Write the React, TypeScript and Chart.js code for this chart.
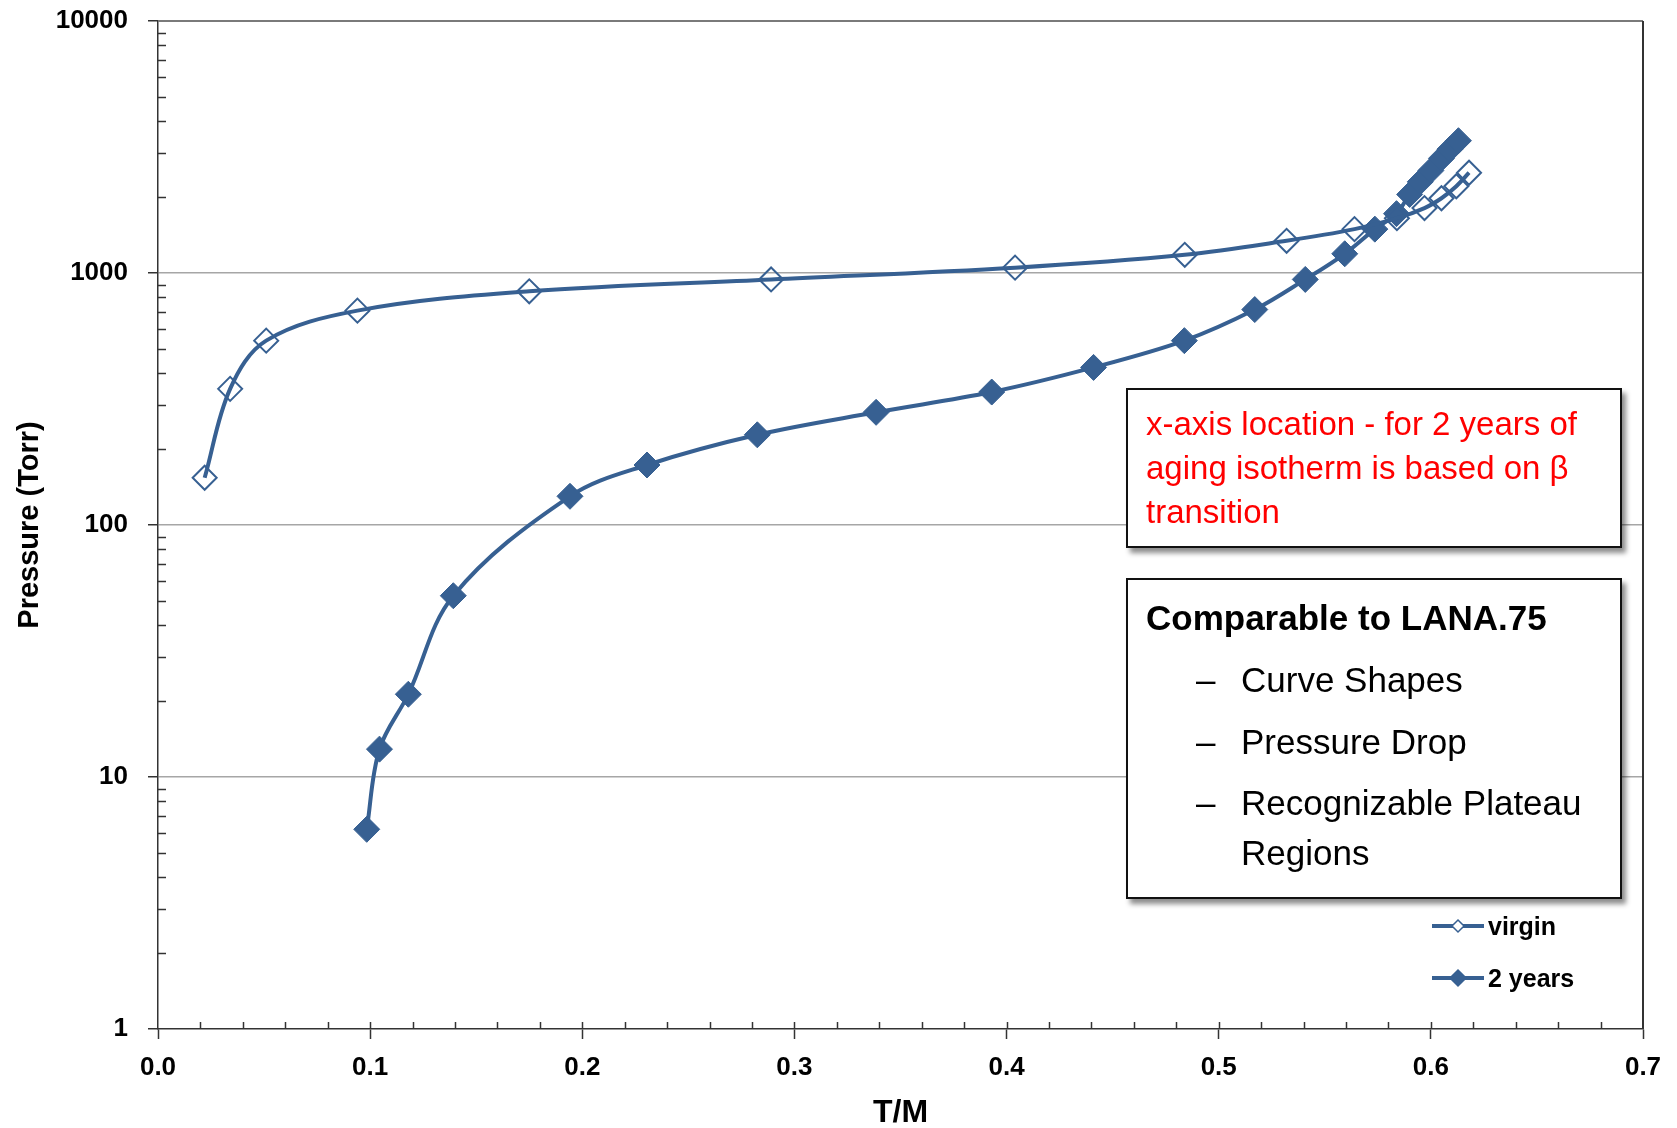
import React, { useEffect, useRef } from 'react';
import { Chart, registerables } from 'chart.js';

Chart.register(...registerables);

// ---- data ----
const virginTM = [0.022, 0.034, 0.051, 0.094, 0.175, 0.289, 0.404, 0.484, 0.532, 0.564, 0.584, 0.597, 0.605, 0.612, 0.618];
const virginP = [154, 347, 539, 709, 846, 943, 1050, 1181, 1342, 1493, 1650, 1810, 1980, 2210, 2500];

const agedTM = [0.0984, 0.1044, 0.118, 0.1392, 0.1942, 0.2305, 0.2825, 0.3385, 0.393, 0.441, 0.4838, 0.517, 0.5408, 0.5594, 0.5736, 0.5838, 0.59, 0.595, 0.6, 0.605, 0.609, 0.613];
const agedP = [6.2, 12.9, 21.3, 52.4, 130, 173, 228, 280, 337, 422, 539, 716, 943, 1192, 1493, 1720, 2050, 2300, 2550, 2850, 3100, 3350];

const seriesNames = ['virgin', '2 years'];
const xTitle = 'T/M';
const yTitle = 'Pressure (Torr)';
const xMin = 0;
const xMax = 0.7;
const xStep = 0.1;
const xMinorStep = 0.02;
const yMin = 1;
const yMax = 10000;

const noteText = 'x-axis location - for 2 years of aging isotherm is based on \u03B2 transition';
const boxTitle = 'Comparable to LANA.75';
const boxBullets = ['Curve Shapes', 'Pressure Drop', 'Recognizable Plateau Regions'];

const BLUE = '#376092';
const FONT = "'Liberation Sans', Arial, sans-serif";

const isDecade = (v: number) => Math.abs(Math.log10(v) - Math.round(Math.log10(v))) < 1e-9;

const axisDecor = {
  id: 'axisDecor',
  afterDraw(chart: any) {
    const { ctx, chartArea: a, scales } = chart;
    const x = scales.x;
    const y = scales.y;
    ctx.save();
    ctx.strokeStyle = '#333';
    ctx.lineWidth = 1.5;
    // inward minor ticks on y
    for (let e = Math.log10(yMin); e < Math.log10(yMax); e++) {
      for (let m = 2; m <= 9; m++) {
        const py = Math.round(y.getPixelForValue(m * Math.pow(10, e))) + 0.5;
        ctx.beginPath();
        ctx.moveTo(a.left, py);
        ctx.lineTo(a.left + 8, py);
        ctx.stroke();
      }
    }
    // inward ticks on x
    const n = Math.round((xMax - xMin) / xMinorStep);
    for (let i = 1; i < n; i++) {
      const px = Math.round(x.getPixelForValue(xMin + i * xMinorStep)) + 0.5;
      ctx.beginPath();
      ctx.moveTo(px, a.bottom);
      ctx.lineTo(px, a.bottom - 7);
      ctx.stroke();
    }
    // plot frame top / right
    ctx.lineWidth = 2;
    ctx.strokeStyle = '#7a7a7a';
    ctx.beginPath();
    ctx.moveTo(a.left, a.top);
    ctx.lineTo(a.right, a.top);
    ctx.stroke();
    ctx.strokeStyle = '#333';
    ctx.beginPath();
    ctx.moveTo(a.right, a.top);
    ctx.lineTo(a.right, a.bottom);
    ctx.stroke();
    ctx.restore();
  },
};

function LegendMarker({ filled }: { filled: boolean }) {
  const r = filled ? 8 : 6;
  const cx = 26;
  const cy = 10;
  return (
    <svg width={52} height={20} style={{ display: 'block' }}>
      <line x1={0} y1={cy} x2={52} y2={cy} stroke={BLUE} strokeWidth={4} />
      <polygon
        points={`${cx},${cy - r} ${cx + r},${cy} ${cx},${cy + r} ${cx - r},${cy}`}
        fill={filled ? BLUE : '#ffffff'}
        stroke={BLUE}
        strokeWidth={1.5}
      />
    </svg>
  );
}

const zeroPad = (s: any) => {
  s.paddingTop = 0;
  s.paddingBottom = 0;
  s.paddingLeft = 0;
  s.paddingRight = 0;
};

export default function App() {
  const ref = useRef<HTMLCanvasElement | null>(null);

  useEffect(() => {
    if (!ref.current) return;
    const chart = new Chart(ref.current, {
      type: 'line',
      data: {
        datasets: [
          {
            label: seriesNames[0],
            data: virginTM.map((t, i) => ({ x: t, y: virginP[i] })),
            borderColor: BLUE,
            borderWidth: 4,
            tension: 0.35,
            pointStyle: 'rectRot',
            pointRadius: 12,
            pointBorderWidth: 2,
            pointBorderColor: BLUE,
            pointBackgroundColor: 'rgba(255,255,255,0)',
            fill: false,
          },
          {
            label: seriesNames[1],
            data: agedTM.map((t, i) => ({ x: t, y: agedP[i] })),
            borderColor: BLUE,
            borderWidth: 4,
            tension: 0.35,
            pointStyle: 'rectRot',
            pointRadius: 13,
            pointBorderWidth: 1,
            pointBorderColor: BLUE,
            pointBackgroundColor: BLUE,
            fill: false,
          },
        ],
      },
      options: {
        responsive: false,
        animation: false,
        events: [],
        layout: { padding: { top: 21, right: 34, left: 0, bottom: 0 } },
        plugins: {
          legend: { display: false },
          tooltip: { enabled: false },
        },
        scales: {
          x: {
            type: 'linear',
            min: xMin,
            max: xMax,
            ticks: {
              stepSize: xStep,
              autoSkip: false,
              maxRotation: 0,
              padding: 13,
              color: '#000',
              font: { family: FONT, size: 26, weight: 'bold' },
              callback: (v: any) => Number(v).toFixed(1),
            },
            grid: {
              drawOnChartArea: false,
              tickLength: 10,
              tickColor: '#333',
              tickWidth: 1.5,
            },
            border: { color: '#333', width: 1.5 },
            title: {
              display: true,
              text: xTitle,
              color: '#000',
              font: { family: FONT, size: 32, weight: 'bold', lineHeight: 0.9 },
              padding: { top: 0, bottom: 0 },
            },
            afterFit: (s: any) => {
              s.height = 99;
              zeroPad(s);
            },
          },
          y: {
            type: 'logarithmic',
            min: yMin,
            max: yMax,
            ticks: {
              autoSkip: false,
              padding: 20,
              color: '#000',
              font: { family: FONT, size: 26, weight: 'bold' },
              callback: (v: any) => (isDecade(Number(v)) ? String(Math.round(Number(v))) : ''),
            },
            grid: {
              color: (c: any) => {
                const v = c.tick ? c.tick.value : 0;
                return isDecade(v) && v > yMin && v < yMax ? '#a6a6a6' : 'rgba(0,0,0,0)';
              },
              lineWidth: 1.5,
              tickLength: 10,
              tickColor: (c: any) => (c.tick && isDecade(c.tick.value) ? '#333' : 'rgba(0,0,0,0)'),
              tickWidth: 1.5,
            },
            border: { color: '#333', width: 1.5 },
            title: {
              display: true,
              text: yTitle,
              color: '#000',
              font: { family: FONT, size: 29, weight: 'bold' },
              padding: { top: 13, bottom: 0 },
            },
            afterFit: (s: any) => {
              s.width = 158;
              zeroPad(s);
            },
          },
        },
      },
      plugins: [axisDecor],
    } as any);
    return () => chart.destroy();
  }, []);

  const boxStyle: React.CSSProperties = {
    position: 'absolute',
    left: 1126,
    width: 496,
    boxSizing: 'border-box',
    border: '2px solid #111',
    background: '#fff',
    boxShadow: '4px 5px 5px rgba(0,0,0,0.45)',
  };

  return (
    <div style={{ position: 'fixed', left: 0, top: 0, width: 1677, height: 1128, background: '#fff', overflow: 'hidden' }}>
      <canvas ref={ref} width={1677} height={1128} style={{ position: 'absolute', left: 0, top: 0, width: 1677, height: 1128 }} />

      <div style={{ ...boxStyle, top: 388, height: 160 }}>
        <div
          style={{
            position: 'absolute',
            left: 18,
            top: 12,
            width: 460,
            fontFamily: FONT,
            fontSize: 33,
            lineHeight: '44px',
            color: '#ff0000',
          }}
        >
          {noteText}
        </div>
      </div>

      <div style={{ ...boxStyle, top: 578, height: 321 }}>
        <div
          style={{
            position: 'absolute',
            left: 18,
            top: 17,
            fontFamily: FONT,
            fontSize: 35,
            fontWeight: 'bold',
            lineHeight: '42px',
            color: '#000',
            whiteSpace: 'nowrap',
          }}
        >
          {boxTitle}
        </div>
        {boxBullets.map((b, i) => (
          <div
            key={b}
            style={{
              position: 'absolute',
              left: 68,
              top: 75 + i * 61.5,
              display: 'flex',
              fontFamily: FONT,
              fontSize: 35,
              lineHeight: '50px',
              color: '#000',
            }}
          >
            <span style={{ width: 45, flex: 'none' }}>{'\u2013'}</span>
            <span style={{ width: 365 }}>{b}</span>
          </div>
        ))}
      </div>

      {seriesNames.map((name, i) => (
        <div
          key={name}
          style={{
            position: 'absolute',
            left: 1432,
            top: 911 + i * 52,
            height: 30,
            display: 'flex',
            alignItems: 'center',
            fontFamily: FONT,
            fontSize: 25,
            fontWeight: 'bold',
            color: '#000',
          }}
        >
          <LegendMarker filled={i === 1} />
          <span style={{ marginLeft: 4 }}>{name}</span>
        </div>
      ))}
    </div>
  );
}
